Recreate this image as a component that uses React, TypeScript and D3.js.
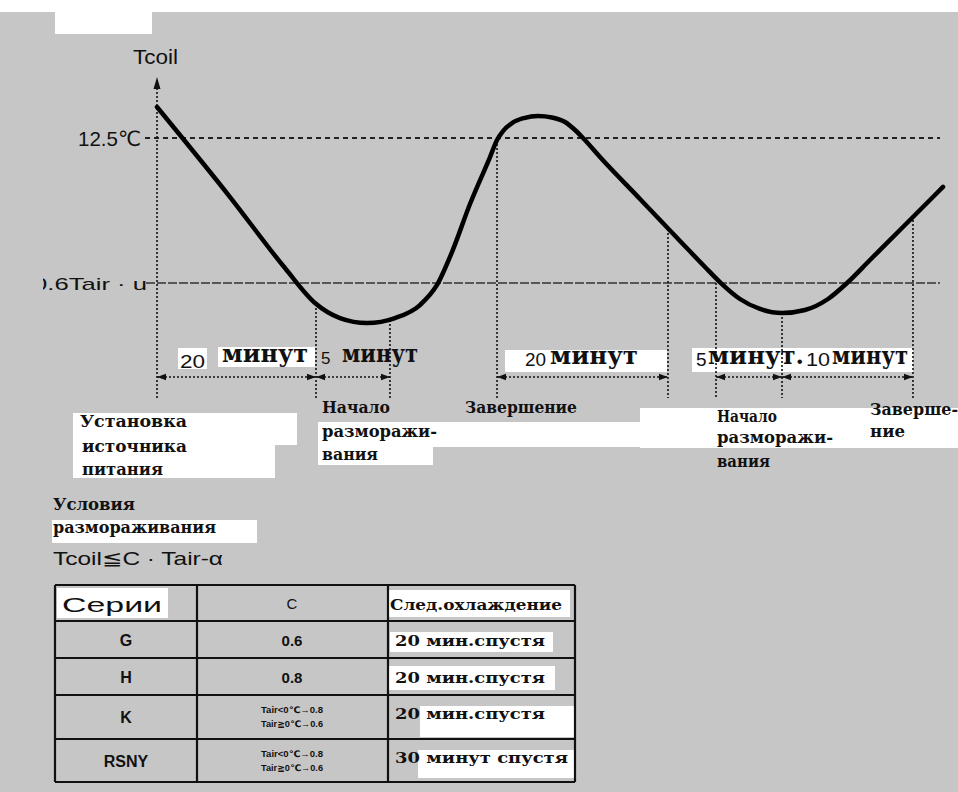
import React from "react";
import * as d3 from "d3";

const W = 958;
const H = 792;

// ---- data (schematic time units 0..100, temperature units where 0 = 0.6Tair·u level) ----
const curveTime = [0, 9.29, 16.28, 20.1, 23.28, 26.72, 30.28, 33.46, 35.62, 37.53, 39.82, 42.37, 43.26, 44.02, 45.17, 46.69, 48.47, 50.25, 51.91, 53.18, 54.2, 56.36, 61.45, 66.54, 69.72, 71.88, 74.17, 76.72, 79.52, 82.44, 85.37, 87.79, 90.71, 94.53, 100];
const curveTemp = [15.17, 7.41, 1.29, -1.72, -3.02, -3.45, -3.02, -1.9, -0.17, 2.67, 6.81, 10.86, 12.33, 13.1, 13.79, 14.22, 14.4, 14.27, 13.88, 13.19, 12.5, 10.86, 7.24, 3.62, 1.38, -0.09, -1.38, -2.24, -2.59, -2.33, -1.38, 0, 1.98, 4.57, 8.28];

const upperLevel = 12.5;
const lowerLevel = 0;
const levelLabels = ["12.5℃", "0.6Tair · u"];

const eventTimes = [20.23, 29.64, 43.26, 65.01, 71.12, 79.52, 96.18];
const eventTops = [-1.81, -3.19, 12.33, 4.66, 0, -2.59, 5.43];

const spanStart = [0, 20.23, 43.26, 71.12, 79.52];
const spanEnd = [20.23, 29.64, 65.01, 79.52, 96.18];

const seriesNames = ["G", "H", "K", "RSNY"];
const cValues = [["0.6"], ["0.8"], ["Tair<0℃→0.8", "Tair≧0℃→0.6"], ["Tair<0℃→0.8", "Tair≧0℃→0.6"]];
const nextCooling = ["20 мин.спустя", "20 мин.спустя", "20 мин.спустя", "30 минут спустя"];
const tableHeaders = ["Серии", "C", "След.охлаждение"];

const slabFont = "'DejaVu Serif', 'Liberation Serif', serif";
const sans = "'Liberation Sans', Arial, 'DejaVu Sans', sans-serif";

export default function App() {
  const x = d3.scaleLinear().domain([0, 100]).range([157, 943]);
  const y = d3.scaleLinear().domain([0, 12.5]).range([283, 138]);

  const pts: [number, number][] = curveTime.map((t, i) => [t, curveTemp[i]]);
  const line = d3
    .line<[number, number]>()
    .x((d) => x(d[0]))
    .y((d) => y(d[1]))
    .curve(d3.curveMonotoneX);

  const axisBottom = 398;
  const dimY = 377;
  const ink = "#111";

  const arrow = (xa: number, dir: number) =>
    `${xa},${dimY} ${xa + dir * 9},${dimY - 3.2} ${xa + dir * 9},${dimY + 3.2}`;

  const colEdges = [55, 197, 388, 575];
  const rowEdges = [585, 621, 658, 695, 739, 782];

  const slab = (txt: string, tx: number, ty: number, len: number, size = 16) => (
    <text x={tx} y={ty} fontFamily={slabFont} fontWeight="bold" fontSize={size} fill={ink} textLength={len} lengthAdjust="spacingAndGlyphs">
      {txt}
    </text>
  );

  return (
    <div style={{ position: "absolute", left: 0, top: 0 }}>
      <svg width={W} height={H} viewBox={`0 0 ${W} ${H}`} style={{ display: "block" }}>
        <defs>
          <clipPath id="lblclip">
            <rect x={43} y={260} width={120} height={40} />
          </clipPath>
        </defs>
        <rect x={0} y={0} width={W} height={H} fill="#fff" />
        <rect x={0} y={12} width={W} height={H - 12} fill="#c6c6c6" />
        <rect x={55} y={12} width={97} height={22} fill="#fff" />

        {/* white label backgrounds */}
        <rect x={178} y={348} width={29} height={21} fill="#fff" />
        <rect x={218} y={347} width={97} height={20} fill="#fff" />
        <rect x={505} y={350} width={162} height={22} fill="#fff" />
        <rect x={692} y={348} width={221} height={24} fill="#fff" />
        <rect x={73} y={413} width={224} height={32} fill="#fff" />
        <rect x={73} y={445} width={202} height={33} fill="#fff" />
        <rect x={318} y={422} width={322} height={25} fill="#fff" />
        <rect x={318} y={447} width={115} height={18} fill="#fff" />
        <rect x={640} y={408} width={318} height={40} fill="#fff" />
        <rect x={52} y={520} width={205} height={23} fill="#fff" />

        {/* reference levels */}
        <line x1={145} x2={940} y1={y(upperLevel)} y2={y(upperLevel)} stroke="#222" strokeWidth={1.8} strokeDasharray="5 4" />
        <line x1={146} x2={940} y1={y(lowerLevel)} y2={y(lowerLevel)} stroke="#333" strokeWidth={1.6} strokeDasharray="9 2" />

        {/* y axis */}
        <line x1={x(0)} x2={x(0)} y1={88} y2={axisBottom} stroke={ink} strokeWidth={1.6} strokeDasharray="2 2" />
        <polygon points={`${x(0)},77 ${x(0) - 3.5},89 ${x(0) + 3.5},89`} fill={ink} />
        <text x={155.5} y={64} fontFamily={sans} fontSize={21} fill={ink} textAnchor="middle" textLength={45} lengthAdjust="spacingAndGlyphs">
          Tcoil
        </text>
        <text x={141} y={146} fontFamily={sans} fontSize={21} fill={ink} textAnchor="end" textLength={63} lengthAdjust="spacingAndGlyphs">
          {levelLabels[0]}
        </text>
        <g clipPath="url(#lblclip)">
          <text x={147} y={290} fontFamily={sans} fontSize={17} fill={ink} textAnchor="end" textLength={114} lengthAdjust="spacingAndGlyphs">
            {levelLabels[1]}
          </text>
        </g>

        {/* event verticals */}
        {eventTimes.map((t, i) => (
          <line key={i} x1={x(t)} x2={x(t)} y1={y(eventTops[i])} y2={axisBottom} stroke={ink} strokeWidth={1.6} strokeDasharray="2 2" />
        ))}

        {/* dimension spans */}
        {spanStart.map((s, i) => (
          <g key={i}>
            <line x1={x(s)} x2={x(spanEnd[i])} y1={dimY} y2={dimY} stroke={ink} strokeWidth={1.5} strokeDasharray="2 2" />
            <polygon points={arrow(x(s), 1)} fill={ink} />
            <polygon points={arrow(x(spanEnd[i]), -1)} fill={ink} />
          </g>
        ))}

        {/* coil temperature curve */}
        <path d={line(pts) || ""} fill="none" stroke="#000" strokeWidth={4.5} strokeLinejoin="round" strokeLinecap="round" />

        {/* span labels */}
        <text x={180} y={368} fontFamily={sans} fontSize={19} fill={ink} textLength={25} lengthAdjust="spacingAndGlyphs">20</text>
        {slab("минут", 222, 362, 86, 24)}
        <text x={321} y={364} fontFamily={sans} fontSize={17} fill={ink}>5</text>
        {slab("минут", 342, 362, 76, 24)}
        <text x={525} y={366} fontFamily={sans} fontSize={19} fill={ink} textLength={21} lengthAdjust="spacingAndGlyphs">20</text>
        {slab("минут", 550, 364, 88, 24)}
        <text x={696} y={366} fontFamily={sans} fontSize={19} fill={ink}>5</text>
        {slab("минут.", 708, 364, 96, 24)}
        <text x={806} y={366} fontFamily={sans} fontSize={19} fill={ink} textLength={24} lengthAdjust="spacingAndGlyphs">10</text>
        {slab("минут", 832, 364, 76, 24)}

        {/* event labels */}
        {slab("Установка", 80, 427, 107, 16)}
        {slab("источника", 82, 452, 105, 16)}
        {slab("питания", 82, 475, 81, 16)}
        {slab("Начало", 322, 413, 68, 16)}
        {slab("разморажи-", 322, 437, 115, 16)}
        {slab("вания", 322, 460, 56, 16)}
        {slab("Завершение", 465, 413, 112, 16)}
        {slab("Начало", 717, 422, 60, 16)}
        {slab("разморажи-", 717, 443, 116, 16)}
        {slab("вания", 717, 467, 53, 16)}
        {slab("Заверше-", 870, 415, 88, 16)}
        {slab("ние", 870, 437, 35, 16)}

        {/* defrost condition */}
        {slab("Условия", 53, 510, 82, 16)}
        {slab("размораживания", 53, 533, 163, 16)}
        <text x={53} y={565} fontFamily={sans} fontSize={19} fill={ink} textLength={170} lengthAdjust="spacingAndGlyphs">
          Tcoil≦C · Tair-α
        </text>

        {/* table */}
        <rect x={57} y={588} width={111} height={30} fill="#fff" />
        <rect x={389} y={590} width={181} height={27} fill="#fff" />
        <rect x={390} y={632} width={163} height={20} fill="#fff" />
        <rect x={389} y={666} width={166} height={24} fill="#fff" />
        <rect x={420} y={706} width={155} height={31} fill="#fff" />
        <rect x={418} y={750} width={157} height={28} fill="#fff" />

        {rowEdges.map((ry, i) => (
          <line key={"r" + i} x1={colEdges[0]} x2={colEdges[3]} y1={ry} y2={ry} stroke={ink} strokeWidth={2.2} />
        ))}
        {colEdges.map((cx, i) => (
          <line key={"c" + i} x1={cx} x2={cx} y1={rowEdges[0]} y2={rowEdges[5]} stroke={ink} strokeWidth={2.2} />
        ))}

        <text x={62} y={612} fontFamily={sans} fontSize={21} fill={ink} textLength={100} lengthAdjust="spacingAndGlyphs">
          {tableHeaders[0]}
        </text>
        <text x={292} y={609} fontFamily={sans} fontSize={15} fill={ink} textAnchor="middle">
          {tableHeaders[1]}
        </text>
        {slab(tableHeaders[2], 390, 610, 172, 15)}

        {seriesNames.map((s, i) => {
          const top = rowEdges[i + 1];
          const bot = rowEdges[i + 2];
          const mid = (top + bot) / 2;
          const cv = cValues[i];
          return (
            <g key={s}>
              <text x={126} y={mid + 6} fontFamily={sans} fontWeight="bold" fontSize={16} fill={ink} textAnchor="middle">
                {s}
              </text>
              {cv.length === 1 ? (
                <text x={292} y={mid + 6} fontFamily={sans} fontWeight="bold" fontSize={15} fill={ink} textAnchor="middle">
                  {cv[0]}
                </text>
              ) : (
                cv.map((c, j) => (
                  <text key={j} x={292} y={mid - 4 + j * 14} fontFamily={sans} fontWeight="bold" fontSize={9} fill={ink} textAnchor="middle" textLength={62} lengthAdjust="spacingAndGlyphs">
                    {c}
                  </text>
                ))
              )}
              {slab(nextCooling[i], 395, mid + (i >= 2 ? 2 : 6), nextCooling[i].length > 14 ? 173 : 150, 15)}
            </g>
          );
        })}
      </svg>
    </div>
  );
}
